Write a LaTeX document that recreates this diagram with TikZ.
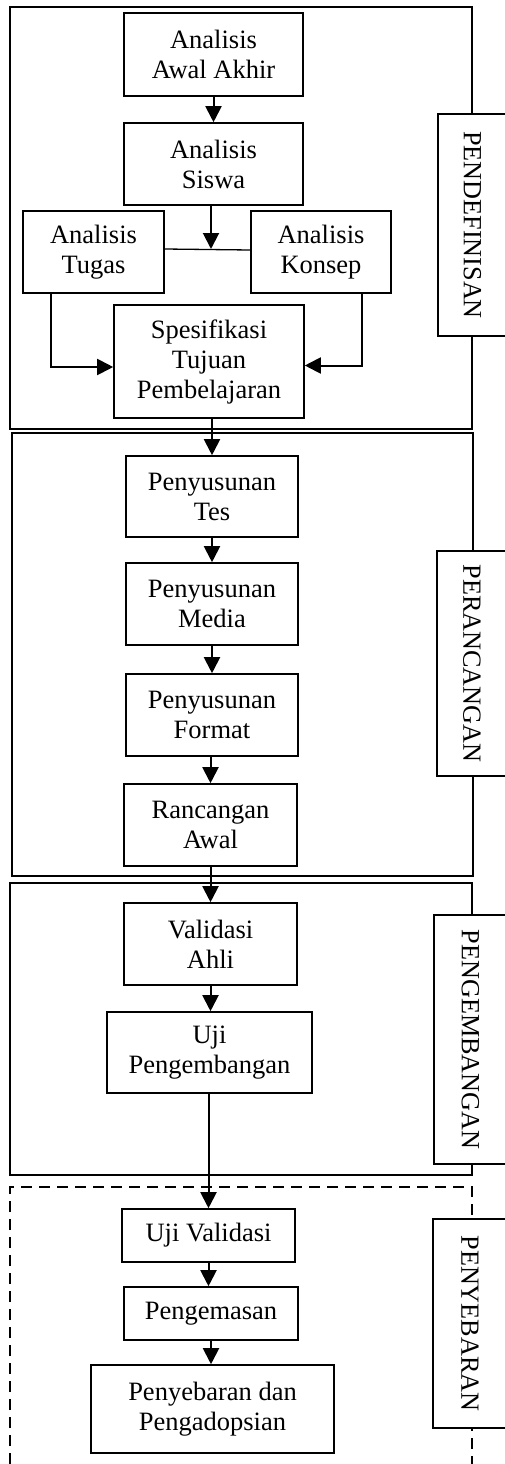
\documentclass[tikz,border=0pt]{standalone}
\usepackage{fontspec}
\setmainfont{Liberation Serif}
\usetikzlibrary{arrows.meta,calc}
\begin{document}
\begin{tikzpicture}[x=1pt,y=-1pt,
  box/.style={draw, line width=1.6pt, fill=white, align=center, inner sep=2pt,
    font=\fontsize{26.5}{30}\selectfont},
  phase/.style={draw, line width=2.4pt},
  lbl/.style={draw, line width=1.6pt, fill=white, rotate=-90, inner sep=0pt,
    font=\fontsize{26.2}{30}\selectfont},
  arr/.style={line width=2pt, -{Triangle[length=16pt,width=16pt]}},
  joinline/.style={line width=1.3pt},
]
\useasboundingbox (0,0) rectangle (505,1464);

% phase frames
\draw[phase] (10,7) rectangle (472,429);
\draw[phase] (12,433) rectangle (473,876);
\draw[phase] (10,883) rectangle (472,1175);
\draw[phase, dash pattern=on 11pt off 7pt] (10,1500) -- (10,1187) -- (472,1187) -- (472,1500);

% phase labels
\node[lbl, minimum width=222pt, minimum height=69pt] (L1) at (472.5,225) {PENDEFINISAN};
\node[lbl, minimum width=225pt, minimum height=70pt] (L2) at (472,663.5) {PERANCANGAN};
\node[lbl, minimum width=249pt, minimum height=73pt] (L3) at (470.5,1039.5) {PENGEMBANGAN};
\node[lbl, minimum width=209pt, minimum height=74pt] (L4) at (470,1323.5) {PENYEBARAN};

% steps
\node[box, minimum width=179pt, minimum height=83pt] (a1) at (213.5,54.5) {Analisis\\Awal Akhir};
\node[box, minimum width=179pt, minimum height=82pt] (a2) at (213.5,164) {Analisis\\Siswa};
\node[box, minimum width=141pt, minimum height=82pt] (tugas) at (93.5,252) {Analisis\\Tugas};
\node[box, minimum width=140pt, minimum height=82pt] (konsep) at (321,252) {Analisis\\Konsep};
\node[box, minimum width=190pt, minimum height=113pt] (spes) at (209,361.5) {Spesifikasi\\Tujuan\\Pembelajaran};
\node[box, minimum width=172pt, minimum height=81pt] (tes) at (212,496.5) {Penyusunan\\Tes};
\node[box, minimum width=172pt, minimum height=82pt] (media) at (212,604) {Penyusunan\\Media};
\node[box, minimum width=172pt, minimum height=82pt] (format) at (212,715) {Penyusunan\\Format};
\node[box, minimum width=173pt, minimum height=82pt] (ranc) at (210.5,825) {Rancangan\\Awal};
\node[box, minimum width=173pt, minimum height=82pt] (valid) at (210.5,944) {Validasi\\Ahli};
\node[box, minimum width=205pt, minimum height=81pt] (ujip) at (209.5,1052.5) {Uji\\Pengembangan};
\node[box, minimum width=173pt, minimum height=53pt] (ujiv) at (208.5,1235.5) {Uji Validasi};
\node[box, minimum width=174pt, minimum height=53pt] (kemas) at (211,1313.5) {Pengemasan};
\node[box, minimum width=243pt, minimum height=88pt] (sebar) at (212.5,1409) {Penyebaran dan\\Pengadopsian};

% connectors
\draw[arr] (a1.south) -- (a2.north);
\draw[joinline] ([yshift=3pt]tugas.east) -- ([yshift=2pt]konsep.west);
\coordinate (j) at (211,249);
\draw[arr] (a2.south -| j) -- (j);
\draw[arr] ([xshift=-42.5pt]tugas.south) |- ([yshift=-5.5pt]spes.west);
\draw[arr] ([xshift=41pt]konsep.south) |- ([yshift=-4pt]spes.east);
\draw[arr] (spes.south -| tes.north) -- (tes.north);
\draw[arr] (tes.south) -- (media.north);
\draw[arr] (media.south) -- (format.north);
\draw[arr] (format.south -| ranc.north) -- (ranc.north);
\draw[arr] (ranc.south) -- (valid.north);
\draw[arr] (valid.south) -- (valid.south |- ujip.north);
\draw[arr] (ujip.south -| ujiv.north) -- (ujiv.north);
\draw[arr] (ujiv.south) -- (ujiv.south |- kemas.north);
\draw[arr] (kemas.south) -- (kemas.south |- sebar.north);
\end{tikzpicture}
\end{document}
